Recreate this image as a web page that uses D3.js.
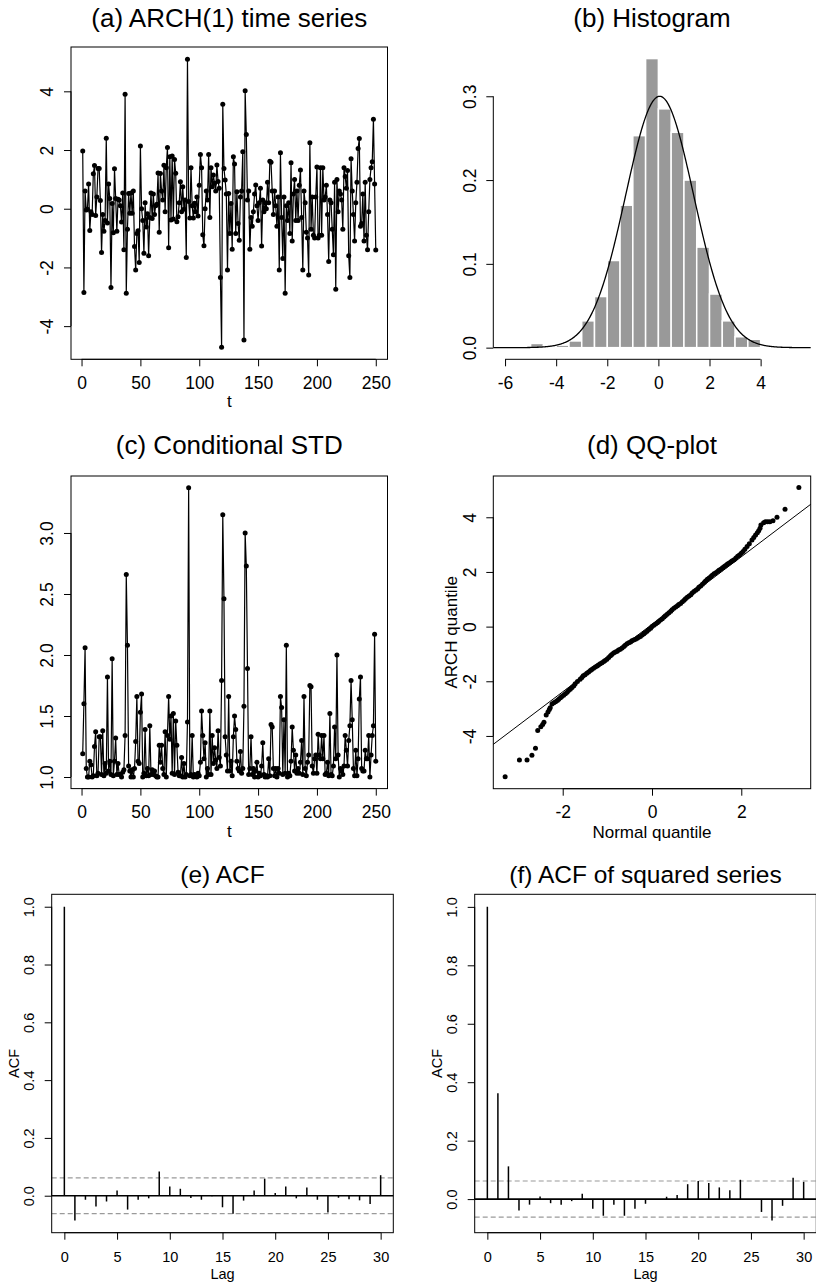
<!DOCTYPE html>
<html>
<head>
<meta charset="utf-8">
<script src="https://cdn.jsdelivr.net/npm/d3@7"></script>
<style>
  body { margin: 0; background: #fff; }
  svg { display: block; }
</style>
</head>
<body>
<svg id="fig" width="816" height="1283"></svg>
<script>
// ---- data ----
const archSeries = [
  1.97,-2.85,0.60,-0.04,-0.02,0.84,-0.74,-0.10,-0.20,1.19,
  1.47,-0.23,0.40,1.37,1.37,0.28,-1.49,-0.20,-0.77,-0.40,
  2.40,-0.49,0.84,0.35,-2.68,0.18,-0.82,1.36,0.35,-0.77,
  0.32,0.30,0.10,-0.45,0.54,-1.40,3.90,-2.88,-0.70,0.52,
  -0.15,0.54,-0.15,0.60,-1.29,-2.09,-0.84,-0.75,-1.83,2.14,
  0.00,-0.40,-1.52,0.20,-0.62,-0.17,-1.60,-0.30,0.54,-0.33,
  0.50,-0.20,0.10,0.15,1.22,-0.80,1.20,0.60,0.30,1.48,
  -0.10,1.40,2.09,-1.33,1.77,-0.38,1.80,-0.35,1.68,1.21,
  -0.44,-0.27,0.20,0.92,-0.10,0.75,-0.02,0.30,-1.66,5.09,
  0.25,-0.32,1.40,0.10,-0.32,0.19,-0.10,0.40,-0.25,0.80,
  1.85,1.40,-0.89,-1.26,0.00,0.60,0.30,1.85,-0.30,1.40,
  0.75,1.15,0.87,0.60,1.49,0.93,0.70,-2.34,-4.72,3.56,
  1.37,0.98,0.50,-2.09,0.52,-0.84,0.18,-1.38,1.77,1.52,
  -0.84,0.58,-0.50,-1.07,0.40,0.60,1.94,-4.47,4.02,2.53,
  0.30,0.60,-1.38,-0.30,-0.60,-0.10,0.50,0.81,0.10,-0.40,
  0.20,0.70,-1.27,0.30,-0.10,0.20,0.00,0.90,0.20,1.62,
  1.58,0.60,-0.20,0.60,0.10,-0.60,0.40,-2.09,1.91,-0.30,
  -1.70,0.40,-2.88,0.10,-0.40,0.20,-0.84,1.57,-1.10,0.50,
  1.00,-0.40,0.60,-0.40,0.80,1.32,-0.30,-2.09,0.60,0.20,
  -0.80,-1.00,-2.26,2.25,-0.70,0.40,-0.90,-1.00,0.40,1.42,
  -1.00,-0.90,1.40,-0.90,1.40,0.30,0.40,0.80,-0.20,-1.80,
  0.30,0.20,-0.70,-1.57,0.90,-2.74,1.00,-0.10,0.60,0.50,
  0.30,-0.70,1.40,1.10,0.70,1.30,-1.60,-2.34,1.70,0.60,
  -0.20,-1.10,0.20,0.90,2.05,2.39,-0.60,-0.50,0.50,-1.10,
  0.90,-0.90,-1.40,-0.10,1.00,1.40,1.60,3.05,0.84,-1.41
];

const condStd = [
  1.19,1.60,2.06,1.07,1.00,1.00,1.13,1.10,1.00,1.01,
  1.25,1.37,1.01,1.03,1.33,1.33,1.02,1.38,1.01,1.11,
  1.03,1.82,1.05,1.13,1.02,1.97,1.01,1.13,1.32,1.02,
  1.11,1.02,1.02,1.00,1.04,1.06,1.34,2.66,2.08,1.09,
  1.05,1.00,1.06,1.00,1.07,1.29,1.66,1.13,1.11,1.53,
  1.68,1.00,1.03,1.39,1.01,1.07,1.01,1.42,1.02,1.06,
  1.02,1.05,1.01,1.00,1.00,1.26,1.12,1.26,1.07,1.02,
  1.37,1.00,1.34,1.66,1.31,1.50,1.03,1.52,1.02,1.46,
  1.26,1.04,1.01,1.01,1.16,1.00,1.11,1.00,1.02,1.45,
  3.37,1.01,1.02,1.34,1.00,1.02,1.01,1.00,1.03,1.01,
  1.12,1.54,1.34,1.15,1.28,1.00,1.07,1.02,1.54,1.02,
  1.34,1.11,1.24,1.14,1.07,1.38,1.16,1.09,1.79,3.15,
  2.46,1.33,1.18,1.05,1.66,1.05,1.13,1.01,1.33,1.50,
  1.39,1.13,1.07,1.05,1.21,1.03,1.07,1.58,3.00,2.73,
  1.89,1.02,1.07,1.33,1.02,1.07,1.00,1.05,1.12,1.00,
  1.03,1.01,1.09,1.28,1.02,1.00,1.01,1.00,1.15,1.01,
  1.43,1.41,1.07,1.01,1.07,1.00,1.07,1.03,1.66,1.57,
  1.02,1.47,1.03,2.08,1.00,1.03,1.01,1.13,1.41,1.22,
  1.05,1.18,1.03,1.07,1.03,1.12,1.30,1.02,1.66,1.07,
  1.01,1.12,1.18,1.75,1.74,1.09,1.03,1.15,1.18,1.03,
  1.35,1.18,1.15,1.34,1.15,1.34,1.02,1.03,1.12,1.01,
  1.52,1.02,1.01,1.09,1.41,1.15,2.00,1.18,1.00,1.07,
  1.05,1.02,1.09,1.34,1.22,1.09,1.30,1.42,1.79,1.47,
  1.07,1.01,1.22,1.01,1.15,1.64,1.82,1.07,1.05,1.05,
  1.22,1.15,1.15,1.34,1.00,1.18,1.34,1.42,2.17,1.13
];

const histBreaks = [-5,-4.5,-4,-3.5,-3,-2.5,-2,-1.5,-1,-0.5,0,0.5,1,1.5,2,2.5,3,3.5,4];
const histDensity = [0.005,0.002,0.003,0.008,0.032,0.061,0.104,0.170,0.253,0.345,
                     0.285,0.257,0.200,0.120,0.064,0.032,0.013,0.010];
const normalMean = 0.05;
const normalSd = 1.33;

const qqNormal = [
  -3.29,-2.97,-2.80,-2.69,-2.61,-2.56,-2.49,-2.45,-2.42,-2.37,
  -2.33,-2.30,-2.28,-2.24,-2.20,-2.16,-2.12,-2.09,-2.05,-2.02,
  -1.98,-1.94,-1.90,-1.87,-1.83,-1.79,-1.75,-1.72,-1.67,-1.61,
  -1.57,-1.54,-1.50,-1.46,-1.42,-1.38,-1.35,-1.31,-1.27,-1.23,
  -1.20,-1.16,-1.12,-1.08,-1.05,-1.01,-0.97,-0.93,-0.90,-0.86,
  -0.82,-0.78,-0.75,-0.71,-0.67,-0.63,-0.60,-0.56,-0.52,-0.48,
  -0.45,-0.41,-0.37,-0.33,-0.30,-0.26,-0.22,-0.18,-0.15,-0.11,
  -0.07,-0.03,0.00,0.04,0.08,0.12,0.15,0.19,0.23,0.27,
  0.30,0.34,0.38,0.42,0.45,0.49,0.53,0.57,0.60,0.64,
  0.68,0.72,0.75,0.79,0.83,0.87,0.90,0.94,0.98,1.02,
  1.05,1.09,1.13,1.17,1.20,1.24,1.28,1.32,1.35,1.39,
  1.43,1.47,1.50,1.54,1.58,1.62,1.65,1.69,1.73,1.77,
  1.80,1.84,1.88,1.92,1.96,2.00,2.04,2.08,2.13,2.18,
  2.24,2.28,2.32,2.36,2.39,2.42,2.44,2.50,2.54,2.59,
  2.64,2.71,2.80,2.98,3.29
];
const qqArch = [
  -5.49,-4.88,-4.88,-4.71,-4.45,-3.80,-3.66,-3.58,-3.50,-3.23,
  -3.12,-3.03,-2.97,-2.83,-2.79,-2.75,-2.70,-2.66,-2.60,-2.56,
  -2.51,-2.46,-2.40,-2.34,-2.29,-2.23,-2.16,-2.09,-2.01,-1.93,
  -1.86,-1.80,-1.76,-1.71,-1.66,-1.61,-1.57,-1.52,-1.48,-1.44,
  -1.40,-1.36,-1.32,-1.28,-1.24,-1.19,-1.13,-1.07,-1.02,-0.97,
  -0.93,-0.90,-0.86,-0.83,-0.78,-0.73,-0.68,-0.63,-0.59,-0.56,
  -0.52,-0.49,-0.46,-0.43,-0.39,-0.36,-0.31,-0.26,-0.22,-0.17,
  -0.11,-0.06,0.00,0.05,0.10,0.14,0.19,0.24,0.29,0.35,
  0.40,0.45,0.51,0.56,0.62,0.67,0.72,0.76,0.81,0.85,
  0.91,0.96,1.02,1.07,1.12,1.17,1.23,1.28,1.33,1.38,
  1.44,1.49,1.55,1.61,1.67,1.73,1.78,1.83,1.88,1.93,
  1.97,2.02,2.06,2.10,2.15,2.20,2.24,2.29,2.33,2.37,
  2.41,2.45,2.51,2.57,2.62,2.68,2.75,2.83,2.93,3.03,
  3.17,3.26,3.35,3.43,3.51,3.60,3.72,3.80,3.84,3.84,
  3.84,3.87,4.00,4.29,5.09
];
const qqLineIntercept = 0.084;
const qqLineSlope = 1.235;

const acfSeries = [1.0,-0.086,-0.014,-0.037,-0.020,0.018,-0.048,-0.014,-0.009,0.084,
  0.032,0.024,-0.008,-0.014,-0.002,-0.040,-0.062,-0.017,0.018,0.059,
  0.009,0.032,-0.009,0.028,-0.014,-0.058,-0.007,-0.012,-0.016,-0.029,0.071];
const acfSquared = [1.0,0.362,0.112,-0.039,-0.019,0.009,-0.014,-0.019,-0.007,0.018,
  -0.033,-0.057,-0.019,-0.057,-0.033,-0.016,-0.003,0.008,0.014,0.051,
  0.062,0.055,0.040,0.030,0.066,-0.002,-0.044,-0.073,-0.023,0.073,0.059];
const acfBound = 0.062;

const titles = ["(a) ARCH(1) time series", "(b) Histogram", "(c) Conditional STD",
                "(d) QQ-plot", "(e) ACF", "(f) ACF of squared series"];

// ---- helpers ----
const FONT = "'Liberation Sans', Arial, Helvetica, sans-serif";
const svg = d3.select("#fig");
const plain = d => String(d);
const oneDec = d => d.toFixed(1);

const addBottomAxis = (x, ticks, yPos, fmt, fontSize, pad) => {
    const ax = svg.append("g")
        .attr("transform", `translate(0,${yPos})`)
        .call(d3.axisBottom(x).tickValues(ticks).tickFormat(fmt).tickSize(7).tickPadding(pad));
    ax.select(".domain").remove();
    // R draws the axis line only from first to last tick
    ax.append("line")
        .attr("x1", x(ticks[0])).attr("x2", x(ticks[ticks.length - 1]))
        .attr("stroke", "#000");
    ax.attr("font-family", FONT).attr("font-size", fontSize);
    ax.selectAll("text").attr("fill", "#000");
    return ax;
};

const addLeftAxis = (y, ticks, xPos, fmt, fontSize, off) => {
    const ax = svg.append("g")
        .attr("transform", `translate(${xPos},0)`)
        .call(d3.axisLeft(y).tickValues(ticks).tickFormat(fmt).tickSize(7));
    ax.select(".domain").remove();
    ax.append("line")
        .attr("y1", y(ticks[0])).attr("y2", y(ticks[ticks.length - 1]))
        .attr("stroke", "#000");
    ax.attr("font-family", FONT).attr("font-size", fontSize);
    // labels parallel to the axis, like R's default las=0
    ax.selectAll(".tick text")
        .attr("x", null).attr("dy", null)
        .attr("transform", `translate(${-off},0) rotate(-90)`)
        .attr("text-anchor", "middle")
        .attr("fill", "#000");
    return ax;
};

const addBox = (b) => svg.append("rect")
    .attr("x", b.left).attr("y", b.top)
    .attr("width", b.right - b.left).attr("height", b.bottom - b.top)
    .attr("fill", "none").attr("stroke", "#000").attr("stroke-width", 1);

const addText = (txt, x, y, size, rotate) => svg.append("text")
    .attr("transform", rotate ? `translate(${x},${y}) rotate(-90)` : `translate(${x},${y})`)
    .attr("text-anchor", "middle")
    .attr("font-family", FONT)
    .attr("font-size", size)
    .attr("fill", "#000")
    .text(txt);

const TICK = 17.5, TITLE = 26, AXLAB = 17;
const TICK_ACF = 14.5, TITLE_ACF = 24.5;
const DOT = 2.5;

// ---- (a) time series ----
const boxA = { left: 71, right: 387.5, top: 47, bottom: 359.3 };
const xTime = d3.scaleLinear().domain([-8.96, 259.96]).range([boxA.left, boxA.right]);
const yA = d3.scaleLinear().domain([-5.13, 5.51]).range([boxA.bottom, boxA.top]);
const seriesA = archSeries.map((v, i) => ({ t: i + 1, v: v }));

svg.append("path")
    .datum(seriesA)
    .attr("fill", "none").attr("stroke", "#000").attr("stroke-width", 1.2)
    .attr("d", d3.line().x(d => xTime(d.t)).y(d => yA(d.v)));
svg.append("g").selectAll("circle")
    .data(seriesA)
    .join("circle")
    .attr("cx", d => xTime(d.t)).attr("cy", d => yA(d.v)).attr("r", DOT)
    .attr("fill", "#000");
addBox(boxA);
addBottomAxis(xTime, [0, 50, 100, 150, 200, 250], boxA.bottom, plain, TICK, 10);
addLeftAxis(yA, [-4, -2, 0, 2, 4], boxA.left, plain, TICK, 17.7);
addText("t", (boxA.left + boxA.right) / 2, boxA.bottom + 48, AXLAB);
addText(titles[0], (boxA.left + boxA.right) / 2, 27, TITLE);

// ---- (b) histogram ----
const boxB = { left: 493.3, right: 810.7, top: 47, bottom: 359.3 };
const xB = d3.scaleLinear().domain([-6.46, 5.96]).range([boxB.left, boxB.right]);
const yB = d3.scaleLinear().domain([-0.0139, 0.3588]).range([boxB.bottom, boxB.top]);
const bins = histDensity.map((h, i) => ({ x0: histBreaks[i], x1: histBreaks[i + 1], h: h }));

svg.append("g").selectAll("rect")
    .data(bins)
    .join("rect")
    .attr("x", d => xB(d.x0)).attr("width", d => xB(d.x1) - xB(d.x0))
    .attr("y", d => yB(d.h)).attr("height", d => yB(0) - yB(d.h))
    .attr("fill", "#999999").attr("stroke", "#fff").attr("stroke-width", 1.5);

const curveX = d3.range(-6.46, 5.97, 0.02);
svg.append("path")
    .datum(curveX)
    .attr("fill", "none").attr("stroke", "#000").attr("stroke-width", 1.3)
    .attr("d", d3.line()
        .x(d => xB(d))
        .y(d => yB(Math.exp(-0.5 * ((d - normalMean) / normalSd) ** 2) / (normalSd * Math.sqrt(2 * Math.PI)))));
addBottomAxis(xB, [-6, -4, -2, 0, 2, 4], boxB.bottom, plain, TICK, 10);
addLeftAxis(yB, [0, 0.1, 0.2, 0.3], boxB.left, oneDec, TICK, 17.7);
addText(titles[1], (boxB.left + boxB.right) / 2, 27, TITLE);

// ---- (c) conditional std ----
const boxC = { left: 71, right: 387.5, top: 476, bottom: 788.6 };
const yC = d3.scaleLinear().domain([0.905, 3.467]).range([boxC.bottom, boxC.top]);
const seriesC = condStd.map((v, i) => ({ t: i + 1, v: v }));

svg.append("path")
    .datum(seriesC)
    .attr("fill", "none").attr("stroke", "#000").attr("stroke-width", 1.2)
    .attr("d", d3.line().x(d => xTime(d.t)).y(d => yC(d.v)));
svg.append("g").selectAll("circle")
    .data(seriesC)
    .join("circle")
    .attr("cx", d => xTime(d.t)).attr("cy", d => yC(d.v)).attr("r", DOT)
    .attr("fill", "#000");
addBox(boxC);
addBottomAxis(xTime, [0, 50, 100, 150, 200, 250], boxC.bottom, plain, TICK, 10);
addLeftAxis(yC, [1.0, 1.5, 2.0, 2.5, 3.0], boxC.left, oneDec, TICK, 17.7);
addText("t", (boxC.left + boxC.right) / 2, boxC.bottom + 48, AXLAB);
addText(titles[2], (boxC.left + boxC.right) / 2, 454, TITLE);

// ---- (d) QQ plot ----
const boxD = { left: 493.3, right: 810.7, top: 476, bottom: 788.7 };
const xD = d3.scaleLinear().domain([-3.555, 3.555]).range([boxD.left, boxD.right]);
const yD = d3.scaleLinear().domain([-5.93, 5.51]).range([boxD.bottom, boxD.top]);
const qq = qqNormal.map((q, i) => ({ q: q, v: qqArch[i] }));

svg.append("line")
    .attr("x1", xD(-3.555)).attr("y1", yD(qqLineIntercept - 3.555 * qqLineSlope))
    .attr("x2", xD(3.555)).attr("y2", yD(qqLineIntercept + 3.555 * qqLineSlope))
    .attr("stroke", "#000").attr("stroke-width", 1);
svg.append("g").selectAll("circle")
    .data(qq)
    .join("circle")
    .attr("cx", d => xD(d.q)).attr("cy", d => yD(d.v)).attr("r", DOT)
    .attr("fill", "#000");
addBox(boxD);
addBottomAxis(xD, [-2, 0, 2], boxD.bottom, plain, TICK, 10);
addLeftAxis(yD, [-4, -2, 0, 2, 4], boxD.left, plain, TICK, 17.7);
addText("Normal quantile", (boxD.left + boxD.right) / 2, boxD.bottom + 49, AXLAB);
addText("ARCH quantile", boxD.left - 36.5, (boxD.top + boxD.bottom) / 2, AXLAB, true);
addText(titles[3], (boxD.left + boxD.right) / 2, 454, TITLE);

// ---- (e), (f) correlograms ----
const drawAcf = (values, box, yDomain, title) => {
    const x = d3.scaleLinear().domain([-1.2, 31.2]).range([box.left, box.right]);
    const y = d3.scaleLinear().domain(yDomain).range([box.bottom, box.top]);
    const lags = values.map((v, i) => ({ lag: i, v: v }));

    svg.append("g").selectAll("line")
        .data([acfBound, -acfBound])
        .join("line")
        .attr("x1", box.left).attr("x2", box.right)
        .attr("y1", d => y(d)).attr("y2", d => y(d))
        .attr("stroke", "#9a9a9a").attr("stroke-width", 1.2).attr("stroke-dasharray", "5,3");
    svg.append("line")
        .attr("x1", box.left).attr("x2", box.right)
        .attr("y1", y(0)).attr("y2", y(0))
        .attr("stroke", "#000").attr("stroke-width", 1.6);
    svg.append("g").selectAll("line")
        .data(lags)
        .join("line")
        .attr("x1", d => x(d.lag)).attr("x2", d => x(d.lag))
        .attr("y1", y(0)).attr("y2", d => y(d.v))
        .attr("stroke", "#000").attr("stroke-width", 1.5);
    addBox(box);
    addBottomAxis(x, [0, 5, 10, 15, 20, 25, 30], box.bottom, plain, TICK_ACF, 12.5);
    addLeftAxis(y, [0, 0.2, 0.4, 0.6, 0.8, 1.0], box.left, oneDec, TICK_ACF, 17.8);
    addText("Lag", (box.left + box.right) / 2, box.bottom + 46, TICK_ACF);
    addText("ACF", box.left - 32.5, (box.top + box.bottom) / 2, TICK_ACF, true);
    addText(title, (box.left + box.right) / 2, 883, TITLE_ACF);
};

drawAcf(acfSeries, { left: 51.7, right: 393.3, top: 894.3, bottom: 1232.7 }, [-0.128, 1.043], titles[4]);
drawAcf(acfSquared, { left: 474.7, right: 816.3, top: 894.3, bottom: 1232.7 }, [-0.115, 1.043], titles[5]);
</script>
</body>
</html>
